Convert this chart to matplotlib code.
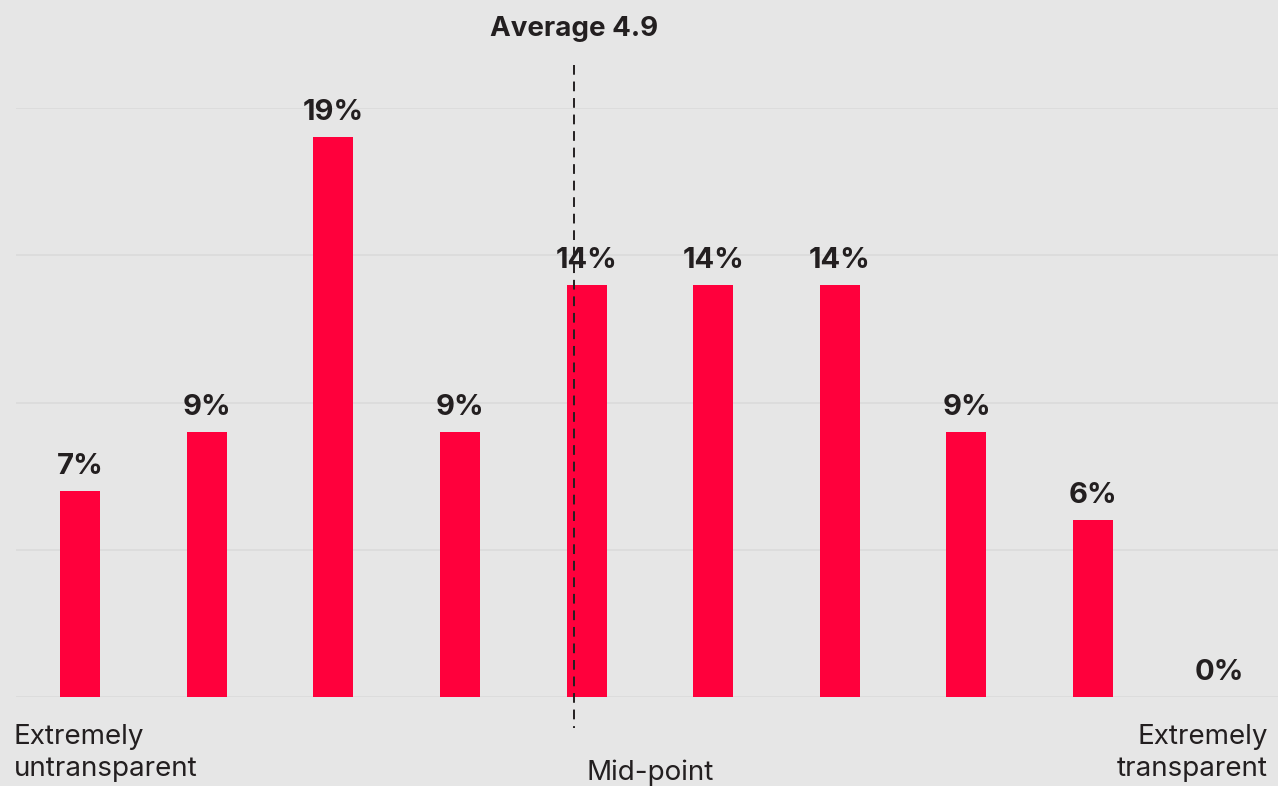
#!/usr/bin/env python3
# -*- coding: utf-8 -*-
"""Transparency rating distribution: bar chart with average marker."""

import matplotlib
matplotlib.use("Agg")
import matplotlib.pyplot as plt
import matplotlib.transforms as mtransforms

# ---------- data ----------
scores = [1, 2, 3, 4, 5, 6, 7, 8, 9, 10]
shares = [7, 9, 19, 9, 14, 14, 14, 9, 6, 0]
average_score = 4.9
midpoint_score = 5.5
left_label = "Extremely\nuntransparent"
right_label = "Extremely\ntransparent"
mid_label = "Mid-point"

# ---------- style ----------
BG = "#e6e6e6"
RED = "#ff003c"
INK = "#231f20"
GRID = "#dadada"
plt.rcParams["font.family"] = ["Inter", "DejaVu Sans"]

fig = plt.figure(figsize=(12.78, 7.86), dpi=100, facecolor=BG)
ax = fig.add_axes([16 / 1278, 89 / 786, 1262 / 1278, 589 / 786], facecolor=BG)

ax.bar(scores, shares, width=0.316, color=RED, zorder=2)
for x, v in zip(scores, shares):
    ax.annotate(f"{v}%", (x, v), xytext=(0, 8), textcoords="offset points",
                ha="center", va="bottom", fontsize=21, fontweight="bold",
                color=INK, zorder=4)

ax.set_xlim(0.494, 10.46)
ax.set_ylim(0, 20)
ax.set_yticks([0, 5, 10, 15, 20])
ax.yaxis.grid(True, color=GRID, linewidth=1.2, zorder=0)
ax.set_xticks([])
ax.tick_params(left=False, labelleft=False)
for s in ax.spines.values():
    s.set_visible(False)

# average marker, runs past the plot area top and bottom
trans = mtransforms.blended_transform_factory(ax.transData, fig.transFigure)
ax.plot([average_score, average_score], [1 - 65 / 786, 1 - 728 / 786],
        transform=trans, clip_on=False, color=INK, linewidth=1.4,
        dashes=(5, 3.5), zorder=3)
fig.text(average_score, 1 - 29 / 786, f"Average {average_score}", transform=trans,
         ha="center", va="center", fontsize=20, fontweight="bold", color=INK)

# scale end labels
fig.text(14 / 1278, 1 - 724 / 786, left_label, ha="left", va="top",
         fontsize=20, color=INK, linespacing=1.3)
fig.text(1268 / 1278, 1 - 724 / 786, right_label, ha="right", va="top",
         fontsize=20, color=INK, linespacing=1.3, multialignment="right")
fig.text(midpoint_score, 1 - 773 / 786, mid_label, transform=trans,
         ha="center", va="center", fontsize=20, color=INK)

fig.savefig("out.png", dpi=100, facecolor=BG)
